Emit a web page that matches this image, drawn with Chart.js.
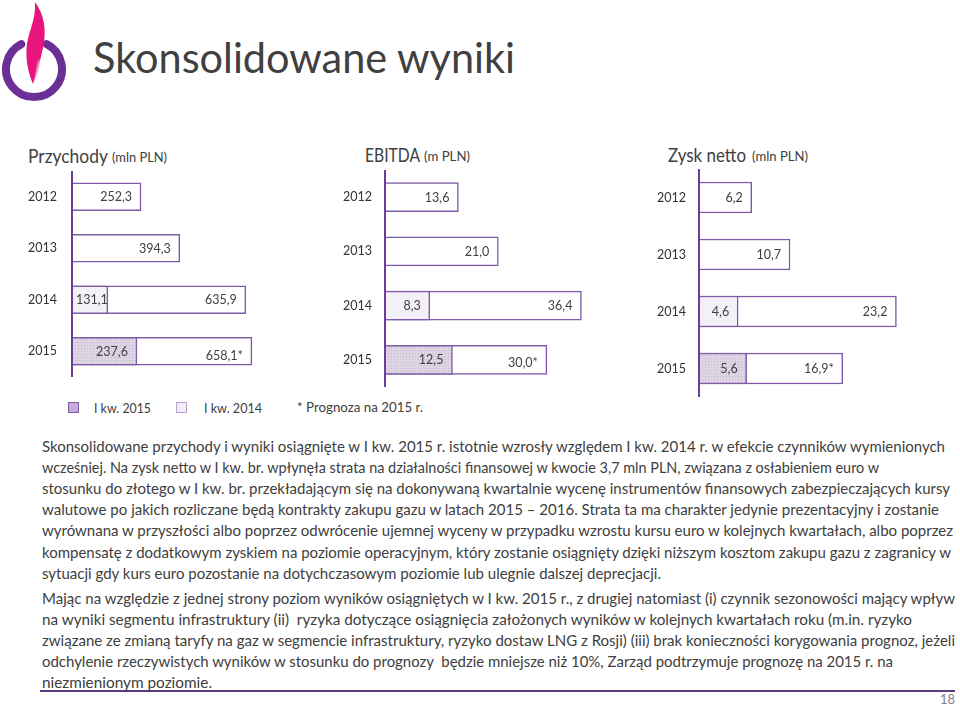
<!DOCTYPE html>
<html lang="pl">
<head>
<meta charset="utf-8">
<script src="https://cdn.jsdelivr.net/npm/chart.js@4.4.1/dist/chart.umd.min.js"></script>
<style>
  html, body { margin:0; padding:0; background:#fff; }
  body { width:960px; height:704px; position:relative; overflow:hidden; font-family: Lato, "Open Sans", sans-serif; color:#404040; }
  .t { position:absolute; white-space:nowrap; transform-origin:left center; }
  canvas { position:absolute; }
  .sq { position:absolute; width:11px; height:11px; box-sizing:border-box; border:1.5px solid #7d5ba6; }
</style>
</head>
<body>
<svg style="position:absolute;left:0;top:0" width="80" height="110" viewBox="0 0 80 110">
  <path d="M 46.7 44.1 A 28 28 0 1 1 21.3 44.1" fill="none" stroke="#6b2f96" stroke-width="8" stroke-linecap="round"/>
  <path d="M 35 2 C 44 14, 47 30, 43 48 C 40 62, 36 74, 33 84 C 28 72, 25 58, 27 44 C 29 30, 36 20, 35 2 Z" fill="#e8157f"/>
  <path d="M 39 58 C 41 66, 38 74, 35 80 C 35 72, 36 64, 39 58 Z" fill="#f7a6cf" opacity="0.6"/>
</svg>

<canvas id="c1" width="300" height="206" style="left:0px;top:171px"></canvas>
<canvas id="c2" width="300" height="217" style="left:310px;top:170px"></canvas>
<canvas id="c3" width="320" height="228" style="left:630px;top:169px"></canvas>

<div class="sq" style="left:68px;top:402px;background:#c7a9da"></div>
<div class="sq" style="left:176px;top:402px;background:#f3ebf6;border-color:#b9a3cc"></div>
<div style="position:absolute;left:40px;top:690px;width:915px;height:2px;background:#5b3a7d"></div>

<script>
// ---------- data ----------
const years = ['2012', '2013', '2014', '2015'];
const revenueAnnual = [252.3, 394.3, 635.9, 658.1];
const revenueQ1 = [null, null, 131.1, 237.6];
const ebitdaAnnual = [13.6, 21.0, 36.4, 30.0];
const ebitdaQ1 = [null, null, 8.3, 12.5];
const netAnnual = [6.2, 10.7, 23.2, 16.9];
const netQ1 = [null, null, 4.6, 5.6];
const forecast = [false, false, false, true];   // 2015 full-year value is a forecast (*)
const legendLabels = ['I kw. 2015', 'I kw. 2014', '* Prognoza na 2015 r.'];

// ---------- text helper ----------
const texts = [];
function txt(s, x, cy, size, w, opts) {
  opts = opts || {};
  const d = document.createElement('div');
  d.className = 't';
  d.textContent = s;
  d.style.left = x + 'px';
  d.style.top = (cy - size / 2) + 'px';
  d.style.fontSize = size + 'px';
  d.style.lineHeight = size + 'px';
  if (opts.color) d.style.color = opts.color;
  document.body.appendChild(d);
  if (w) texts.push([d, w]);
  return d;
}

txt('Skonsolidowane wyniki', 93, 56, 43, 422);

txt('Przychody', 28, 156, 19.5, 80);
txt('(mln PLN)', 112, 158, 12.5, 55);
txt('EBITDA', 365, 155, 19.5, 55);
txt('(m PLN)', 424, 157, 12.5, 46);
txt('Zysk netto', 668, 155, 19.5, 78);
txt('(mln PLN)', 752, 157, 12.5, 56);

txt(legendLabels[0], 94, 408, 13, 57);
txt(legendLabels[1], 204, 408, 13, 58);
txt(legendLabels[2], 297, 407, 13, 126);

const p1 = [
  ['Skonsolidowane przychody i wyniki osiągnięte w I kw. 2015 r. istotnie wzrosły względem I kw. 2014 r. w efekcie czynników wymienionych', 903],
  ['wcześniej. Na zysk netto w I kw. br. wpłynęła strata na działalności finansowej w kwocie 3,7 mln PLN, związana z osłabieniem euro w', 837],
  ['stosunku do złotego w I kw. br. przekładającym się na dokonywaną kwartalnie wycenę instrumentów finansowych zabezpieczających kursy', 908],
  ['walutowe po jakich rozliczane będą kontrakty zakupu gazu w latach 2015 – 2016. Strata ta ma charakter jedynie prezentacyjny i zostanie', 897],
  ['wyrównana w przyszłości albo poprzez odwrócenie ujemnej wyceny w przypadku wzrostu kursu euro w kolejnych kwartałach, albo poprzez', 911],
  ['kompensatę z dodatkowym zyskiem na poziomie operacyjnym, który zostanie osiągnięty dzięki niższym kosztom zakupu gazu z zagranicy w', 909],
  ['sytuacji gdy kurs euro pozostanie na dotychczasowym poziomie lub ulegnie dalszej deprecjacji.', 619]
];
p1.forEach((l, i) => txt(l[0], 42, 446 + i * 21.2, 15, l[1]));
const p2 = [
  ['Mając na względzie z jednej strony poziom wyników osiągniętych w I kw. 2015 r., z drugiej natomiast (i) czynnik sezonowości mający wpływ', 913],
  ['na wyniki segmentu infrastruktury (ii)  ryzyka dotyczące osiągnięcia założonych wyników w kolejnych kwartałach roku (m.in. ryzyko', 870],
  ['związane ze zmianą taryfy na gaz w segmencie infrastruktury, ryzyko dostaw LNG z Rosji) (iii) brak konieczności korygowania prognoz, jeżeli', 913],
  ['odchylenie rzeczywistych wyników w stosunku do prognozy  będzie mniejsze niż 10%, Zarząd podtrzymuje prognozę na 2015 r. na', 851],
  ['niezmienionym poziomie.', 170]
];
p2.forEach((l, i) => txt(l[0], 42, 598 + i * 21, 15, l[1]));
txt('18', 940, 699, 13, 15, { color: '#7f7f7f' });

texts.forEach(([d, w]) => {
  d.style.whiteSpace = 'pre';
  const cw = d.getBoundingClientRect().width;
  if (cw > 0) d.style.transform = 'scaleX(' + (w / cw) + ')';
});

// ---------- charts ----------
const purple = '#7d5ba6';
const axisPurple = '#6b3f99';

function dottedPattern() {
  const pc = document.createElement('canvas');
  pc.width = 3; pc.height = 3;
  const g = pc.getContext('2d');
  g.fillStyle = '#ddd5e3'; g.fillRect(0, 0, 3, 3);
  g.fillStyle = '#c2b5cc'; g.fillRect(0, 0, 1, 1);
  return g.createPattern(pc, 'repeat');
}
const q1Fill = ['#ffffff', '#ffffff', '#f4f0f7', dottedPattern()];

const fmt = v => v.toFixed(1).replace('.', ',');

const labelPlugin = {
  id: 'barLabels',
  afterDatasetsDraw(chart, args, opts) {
    const ctx = chart.ctx;
    ctx.save();
    ctx.font = '12.5px Lato, "Open Sans", sans-serif';
    ctx.fillStyle = '#404040';
    ctx.textBaseline = 'middle';
    ctx.textAlign = 'left';
    chart.data.datasets.forEach((ds, di) => {
      const meta = chart.getDatasetMeta(di);
      meta.data.forEach((bar, i) => {
        const v = ds.data[i];
        if (v == null) return;
        const isAnnual = ds.kind === 'annual';
        const s = fmt(v) + (isAnnual && forecast[i] ? '*' : '');
        const w = ctx.measureText(s).width;
        let x = bar.x - 9 - w;
        const minX = (isAnnual && ds.q1 && ds.q1[i] != null)
          ? chart.scales.x.getPixelForValue(ds.q1[i]) + 4
          : bar.base + 4;
        if (x < minX) x = minX;
        const dy = (isAnnual && forecast[i]) ? (opts.fdy || 0) : 0;
        ctx.fillText(s, x, bar.y + dy + 0.5);
      });
    });
    ctx.restore();
  }
};

function makeChart(id, annual, q1, cfg) {
  new Chart(document.getElementById(id), {
    type: 'bar',
    data: {
      labels: years,
      datasets: [
        { kind: 'q1', data: q1, backgroundColor: q1Fill, borderColor: purple, borderWidth: 1.5,
          barThickness: cfg.bt, grouped: false, order: 0 },
        { kind: 'annual', q1: q1, data: annual, backgroundColor: '#ffffff', borderColor: purple, borderWidth: 1.5,
          barThickness: cfg.bt, grouped: false, order: 1 }
      ]
    },
    options: {
      indexAxis: 'y',
      responsive: false,
      animation: false,
      layout: { padding: 0 },
      plugins: { legend: { display: false }, tooltip: { enabled: false }, barLabels: { fdy: cfg.fdy } },
      scales: {
        x: { display: false, min: 0, max: cfg.max },
        y: {
          afterFit: s => { s.width = cfg.axisW; s.paddingTop = 0; s.paddingBottom = 0; },
          grid: { display: true, color: 'rgba(0,0,0,0)', drawTicks: false, drawOnChartArea: false },
          border: { display: true, color: axisPurple, width: 2, z: 1 },
          ticks: { padding: cfg.pad, color: '#333333', font: { family: 'Lato', size: 12.5 } }
        }
      }
    },
    plugins: [labelPlugin]
  });
}

makeChart('c1', revenueAnnual, revenueQ1, { bt: 28, max: 834, axisW: 72, pad: 15, fdy: 4 });
makeChart('c2', ebitdaAnnual, ebitdaQ1, { bt: 29, max: 41.7, axisW: 75, pad: 13, fdy: 3 });
makeChart('c3', netAnnual, netQ1, { bt: 31, max: 29.5, axisW: 69, pad: 13, fdy: 0 });
</script>
</body>
</html>
